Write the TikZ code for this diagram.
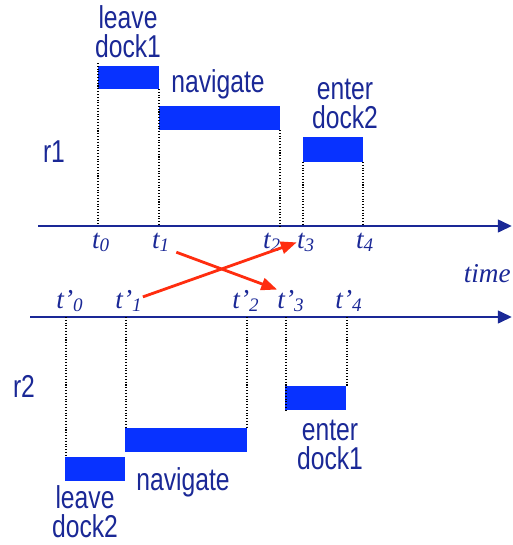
\documentclass[tikz,border=0pt]{standalone}
\usepackage{fontspec}
\setmainfont{Liberation Sans}[FakeStretch=0.78]
\newfontfamily\timefont{Liberation Serif}
\usepackage{tikz}
\usetikzlibrary{arrows.meta,positioning,calc}
\definecolor{navy}{RGB}{26,40,150}
\definecolor{barblue}{RGB}{8,50,255}
\definecolor{swapred}{RGB}{255,45,15}
\tikzstyle{axis}     =[-{Triangle[length=8pt,width=7pt]}, line width=1.7pt, draw=navy]
\tikzstyle{swap}     =[-{Triangle[length=9pt,width=7pt]}, line width=1.6pt, draw=swapred]
\tikzstyle{guide}    =[densely dotted, line width=0.6pt, draw=black]
\tikzstyle{bar}      =[fill=barblue]
\tikzstyle{task}     =[text=navy, font=\fontsize{18}{16.5}\selectfont, align=center, inner sep=0pt]
\tikzstyle{stamp}    =[text=navy, font=\timefont\itshape\fontsize{15.5}{16}\selectfont, inner sep=0pt, anchor=base]

\begin{document}
\begin{tikzpicture}[x=0.02cm, y=-0.02cm]
  \useasboundingbox (0,0) rectangle (512,545);

  % ── time axes ─────────────────────────────────────────────────────────────
  \coordinate (a1) at (38,226);  \coordinate (a1e) at (512,226);
  \coordinate (a2) at (30,317);  \coordinate (a2e) at (512,317);
  \draw[axis] (a1) -- (a1e);
  \draw[axis] (a2) -- (a2e);

  % ── robot r1 ──────────────────────────────────────────────────────────────
  \node[task, anchor=base] (r1) at (54,162) {r1};
  \fill[bar] (98,66)  rectangle (159,89);
  \fill[bar] (159,106) rectangle (280,130);
  \fill[bar] (303,137) rectangle (363,162);
  \draw[guide] (98,63)   -- (98,226);
  \draw[guide] (159,89)  -- (159,226);
  \draw[guide] (280,130) -- (280,226);
  \draw[guide] (303,162) -- (303,226);
  \draw[guide] (363,162) -- (363,226);
  \node[task, anchor=base] (lv1) at (128,57) {leave\\dock1};
  \node[task, anchor=base] (nav1) at (218,92) {navigate};
  \node[task, anchor=base] (en2) at (345,128) {enter\\dock2};

  \node[stamp] (t0) at (101,248) {t\textsubscript{0}};
  \node[stamp] (t1) at (161,248) {t\textsubscript{1}};
  \node[stamp] (t2) at (272,248) {t\textsubscript{2}};
  \node[stamp] (t3) at (306,248) {t\textsubscript{3}};
  \node[stamp] (t4) at (365,248) {t\textsubscript{4}};
  \node[stamp, anchor=base east] (time) at (511,282) {time};

  % ── robot r2 ──────────────────────────────────────────────────────────────
  \node[task, anchor=base] (r2) at (24,397) {r2};
  \fill[bar] (65,457)  rectangle (125,481);
  \fill[bar] (125,428) rectangle (247,452);
  \fill[bar] (285,386) rectangle (346,410);
  \draw[guide] (66,317)  -- (66,457);
  \draw[guide] (126,317) -- (126,428);
  \draw[guide] (247,317) -- (247,428);
  \draw[guide] (286,317) -- (286,410);
  \draw[guide] (347,317) -- (347,386);
  \node[task, anchor=base] (en1) at (330,469) {enter\\dock1};
  \node[task, anchor=base] (nav2) at (183,490) {navigate};
  \node[task, anchor=base] (lv2) at (85,537) {leave\\dock2};

  \node[stamp] (tp0) at (70,308)  {t’\textsubscript{0}};
  \node[stamp] (tp1) at (129,308) {t’\textsubscript{1}};
  \node[stamp] (tp2) at (246,308) {t’\textsubscript{2}};
  \node[stamp] (tp3) at (291,308) {t’\textsubscript{3}};
  \node[stamp] (tp4) at (349,308) {t’\textsubscript{4}};

  % ── exchanged instants ────────────────────────────────────────────────────
  \draw[swap] ($(t1.south east)+(6,0)$) -- (tp3.north west);
  \draw[swap] ($(tp1.east)+(0,-4)$) -- (t3.west);

\end{tikzpicture}
\end{document}
